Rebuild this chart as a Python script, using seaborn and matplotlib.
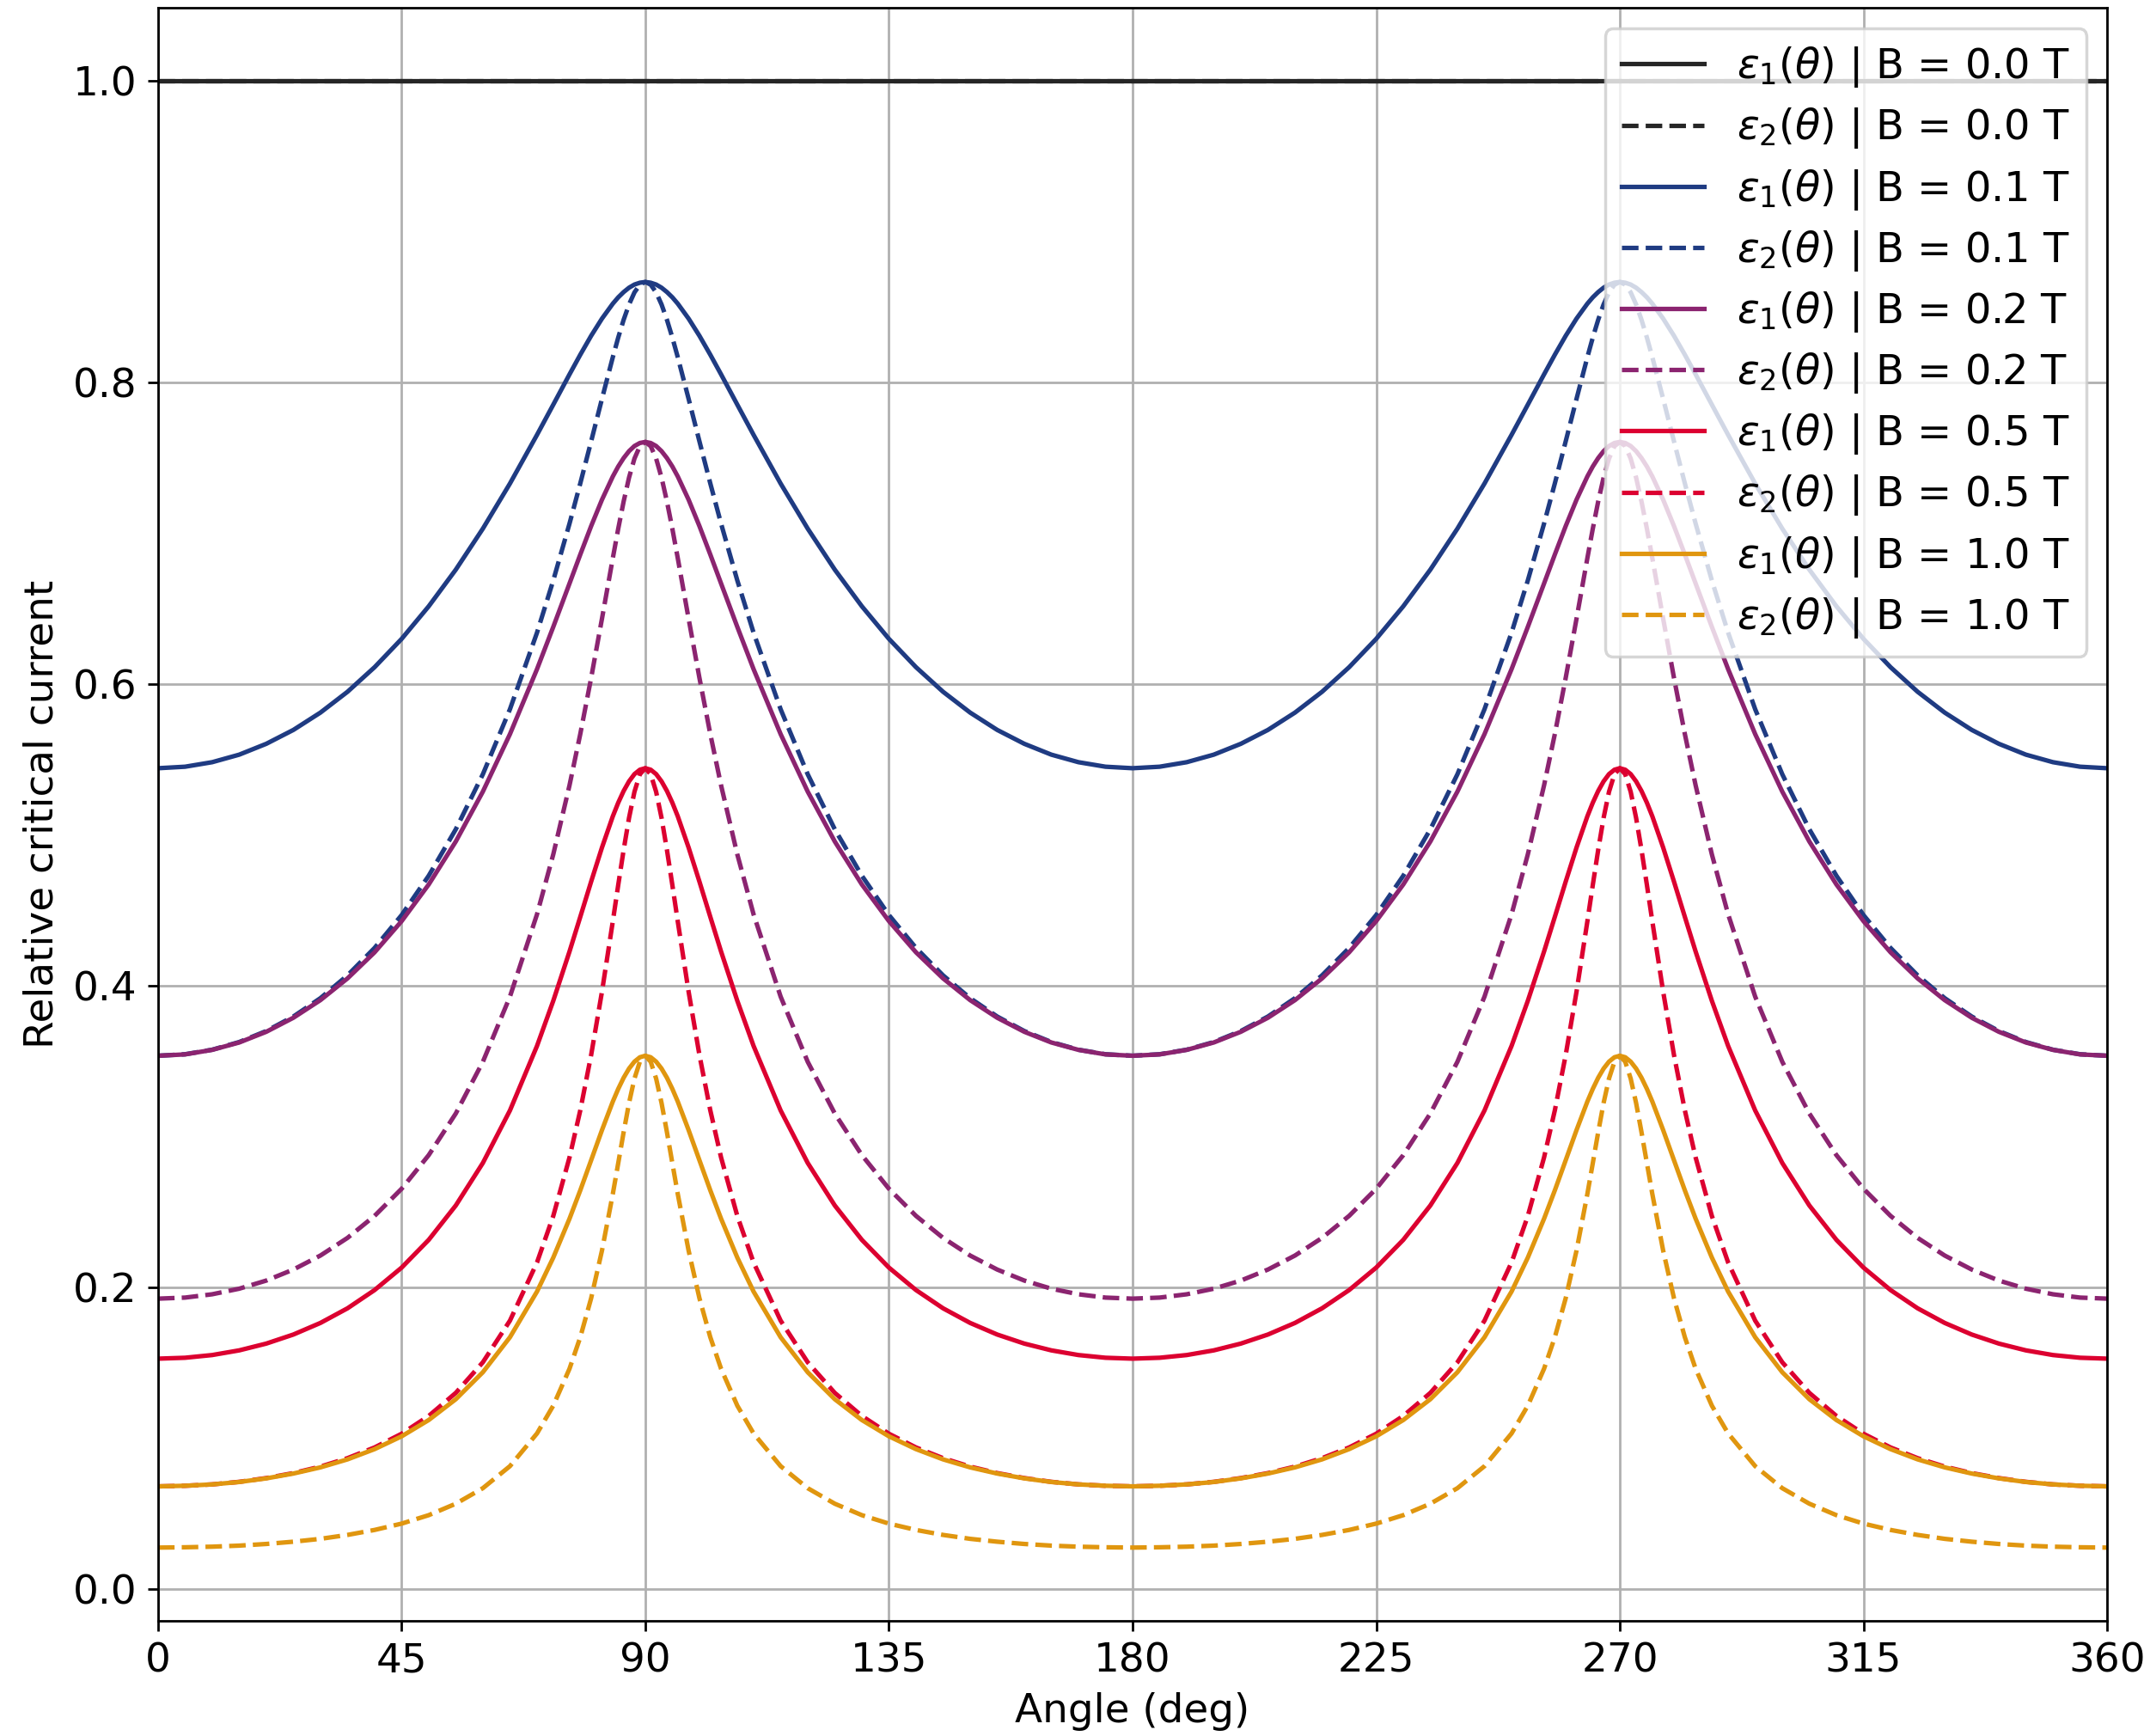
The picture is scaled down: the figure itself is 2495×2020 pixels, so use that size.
import numpy as np
import pandas as pd
import matplotlib
matplotlib.use("Agg")
import matplotlib.pyplot as plt
import seaborn as sns

# ---------- DATA (one quarter period 0..90 deg) ----------
# curves are symmetric about 90 deg and repeat every 180 deg
half_angles = [0, 5, 10, 15, 20, 25, 30, 35, 40, 45, 50, 55, 60, 65, 70,
               73, 76, 78, 80, 82, 84, 85, 86, 87, 88, 89, 90]

fields = [0.0, 0.1, 0.2, 0.5, 1.0]

eps1_b00 = [1.0] * len(half_angles)
eps2_b00 = [1.0] * len(half_angles)

eps1_b01 = [0.5443, 0.5453, 0.5483, 0.5533, 0.5605, 0.5697, 0.5812, 0.5950,
            0.6113, 0.6301, 0.6517, 0.6760, 0.7032, 0.7331, 0.7654, 0.7854,
            0.8055, 0.8186, 0.8311, 0.8425, 0.8524, 0.8566, 0.8601, 0.8630,
            0.8651, 0.8663, 0.8668]
eps2_b01 = [0.3536, 0.3546, 0.3576, 0.3627, 0.3700, 0.3796, 0.3918, 0.4069,
            0.4251, 0.4469, 0.4730, 0.5038, 0.5403, 0.5834, 0.6342, 0.6688,
            0.7065, 0.7333, 0.7611, 0.7893, 0.8169, 0.8299, 0.8417, 0.8519,
            0.8599, 0.8650, 0.8668]

eps1_b02 = [0.3536, 0.3545, 0.3575, 0.3624, 0.3695, 0.3788, 0.3905, 0.4049,
            0.4222, 0.4429, 0.4672, 0.4957, 0.5288, 0.5669, 0.6100, 0.6380,
            0.6668, 0.6861, 0.7049, 0.7224, 0.7378, 0.7444, 0.7500, 0.7546,
            0.7580, 0.7600, 0.7607]
eps2_b02 = [0.1925, 0.1932, 0.1954, 0.1991, 0.2045, 0.2118, 0.2211, 0.2328,
            0.2474, 0.2654, 0.2877, 0.3153, 0.3496, 0.3928, 0.4474, 0.4871,
            0.5329, 0.5671, 0.6042, 0.6435, 0.6836, 0.7031, 0.7212, 0.7371,
            0.7497, 0.7579, 0.7607]

eps1_b05 = [0.1527, 0.1533, 0.1551, 0.1582, 0.1627, 0.1687, 0.1764, 0.1861,
            0.1982, 0.2131, 0.2315, 0.2543, 0.2825, 0.3173, 0.3601, 0.3900,
            0.4227, 0.4458, 0.4691, 0.4917, 0.5124, 0.5214, 0.5292, 0.5356,
            0.5404, 0.5433, 0.5443]
eps2_b05 = [0.0680, 0.0684, 0.0693, 0.0710, 0.0735, 0.0768, 0.0811, 0.0867,
            0.0938, 0.1029, 0.1147, 0.1300, 0.1503, 0.1779, 0.2165, 0.2473,
            0.2861, 0.3175, 0.3541, 0.3961, 0.4427, 0.4668, 0.4901, 0.5114,
            0.5287, 0.5403, 0.5443]

eps1_b10 = [0.0680, 0.0684, 0.0693, 0.0709, 0.0733, 0.0765, 0.0806, 0.0859,
            0.0927, 0.1012, 0.1120, 0.1258, 0.1437, 0.1669, 0.1972, 0.2197,
            0.2455, 0.2644, 0.2843, 0.3043, 0.3232, 0.3316, 0.3390, 0.3451,
            0.3497, 0.3526, 0.3536]
eps2_b10 = [0.0274, 0.0276, 0.0280, 0.0287, 0.0298, 0.0313, 0.0332, 0.0358,
            0.0391, 0.0433, 0.0489, 0.0565, 0.0668, 0.0814, 0.1031, 0.1215,
            0.1460, 0.1670, 0.1928, 0.2244, 0.2619, 0.2823, 0.3029, 0.3223,
            0.3385, 0.3496, 0.3536]

eps1_all = [eps1_b00, eps1_b01, eps1_b02, eps1_b05, eps1_b10]
eps2_all = [eps2_b00, eps2_b01, eps2_b02, eps2_b05, eps2_b10]

colors = ['#262626', '#1f3b82', '#8b2470', '#dc0030', '#e0960f']

x_ticks = [0, 45, 90, 135, 180, 225, 270, 315, 360]
y_ticks = [0.0, 0.2, 0.4, 0.6, 0.8, 1.0]


def unfold(a, v):
    # mirror the 0..90 profile out to the full 0..360 range
    a = np.asarray(a, dtype=float)
    v = np.asarray(v, dtype=float)
    ang = np.concatenate([a, 180 - a[::-1][1:], 180 + a[1:], 360 - a[::-1][1:]])
    val = np.concatenate([v, v[::-1][1:], v[1:], v[::-1][1:]])
    return ang, val


# ---------- PLOT ----------
plt.rcParams['font.size'] = 13.5
plt.rcParams['lines.linewidth'] = 1.5

fig = plt.figure(figsize=(9.98, 8.08), dpi=250)
ax = fig.add_axes([0.0737, 0.0663, 0.9091, 0.9292])

for B, e1, e2, c in zip(fields, eps1_all, eps2_all, colors):
    ang, v1 = unfold(half_angles, e1)
    _, v2 = unfold(half_angles, e2)
    sns.lineplot(x=ang, y=v1, color=c, linestyle='-', ax=ax,
                 label=rf'$\varepsilon_1(\theta)$ | B = {B:.1f} T')
    sns.lineplot(x=ang, y=v2, color=c, linestyle='--', ax=ax,
                 label=rf'$\varepsilon_2(\theta)$ | B = {B:.1f} T')

ax.set_xlim(0, 360)
ax.set_xticks(x_ticks)
ax.set_yticks(y_ticks)
ax.set_xlabel('Angle (deg)')
ax.set_ylabel('Relative critical current')
ax.grid(True)
ax.legend(loc='upper right', fontsize=13.8, labelspacing=0.4)

fig.savefig('out.png', dpi=250)
